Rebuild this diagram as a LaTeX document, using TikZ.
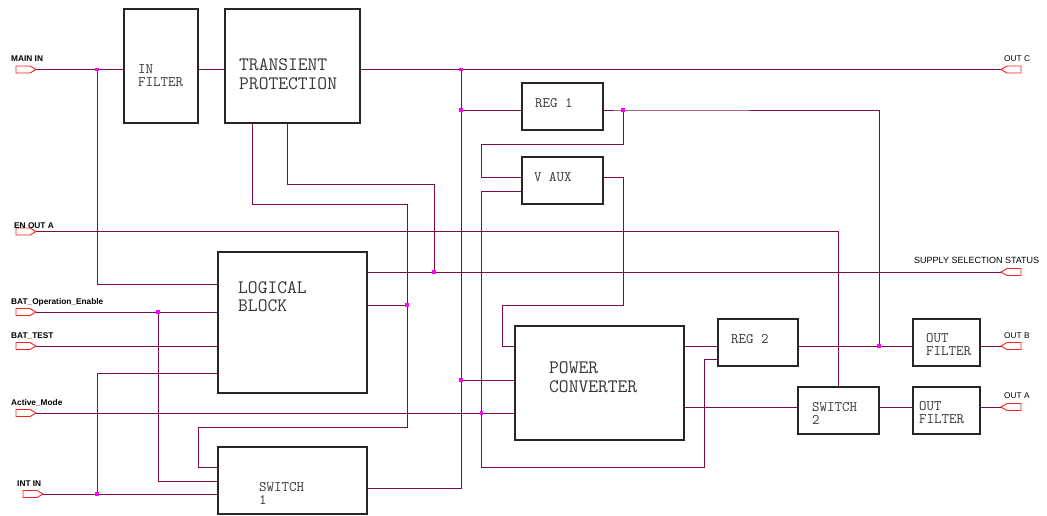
\documentclass[tikz,border=0pt]{standalone}
\usepackage{fontspec}
\setmainfont{Liberation Sans}
\definecolor{wirec}{RGB}{128,10,70}
\definecolor{dotc}{RGB}{255,0,255}
\definecolor{portc}{RGB}{255,30,30}
\definecolor{txtc}{RGB}{55,55,55}
\begin{document}
\begin{tikzpicture}[x=1pt,y=-1pt,
  wire/.style={draw=wirec, line width=0.9pt},
  blk/.style={draw=black!85, line width=1.1pt, fill=white, inner sep=0pt},
  bigt/.style={font=\ttfamily\fontsize{19}{18.5}\selectfont, text=txtc, align=left, anchor=west, inner sep=0pt},
  smt/.style={font=\ttfamily\fontsize{14.5}{13}\selectfont, text=txtc, align=left, anchor=west, inner sep=0pt},
  plab/.style={font=\bfseries\fontsize{8.3}{10}\selectfont, anchor=base west, inner sep=0pt},
  rlab/.style={font=\fontsize{8.3}{10}\selectfont, anchor=base west, inner sep=0pt},
  inport/.pic={\draw[draw=portc, fill=white, line width=0.9pt] (0,0) -- (-6,-3.5) -- (-20,-3.5) -- (-20,3.5) -- (-6,3.5) -- cycle;},
  outport/.pic={\draw[draw=portc, fill=white, line width=0.9pt] (0,0) -- (6,-3.5) -- (20,-3.5) -- (20,3.5) -- (6,3.5) -- cycle;},
  jdot/.style={fill=dotc, inner sep=0pt, minimum size=3.5pt}
]
\useasboundingbox (0,0) rectangle (1047,515);

% blocks
\node[blk, minimum width=74pt, minimum height=114pt] (infilter) at (161,66) {};
\node[blk, minimum width=135pt, minimum height=114pt] (transient) at (292.5,66) {};
\node[blk, minimum width=81pt, minimum height=47pt] (reg1) at (562.5,106.5) {};
\node[blk, minimum width=81pt, minimum height=47pt] (vaux) at (562.5,180.5) {};
\node[blk, minimum width=149pt, minimum height=141pt] (logic) at (292.5,322.5) {};
\node[blk, minimum width=149pt, minimum height=67pt] (switch1) at (292.5,480.5) {};
\node[blk, minimum width=169pt, minimum height=114pt] (power) at (599.5,383) {};
\node[blk, minimum width=80pt, minimum height=47pt] (reg2) at (758,342.5) {};
\node[blk, minimum width=81pt, minimum height=47pt] (switch2) at (838.5,410.5) {};
\node[blk, minimum width=67pt, minimum height=47pt] (ofb) at (946.5,342.5) {};
\node[blk, minimum width=67pt, minimum height=47pt] (ofa) at (946.5,410.5) {};

% block texts
\node[smt] (tinfilter) at (138,76) {IN\\FILTER};
\node[bigt] (ttransient) at (239,74) {TRANSIENT\\PROTECTION};
\node[smt] (treg1) at (535,103) {REG 1};
\node[smt] (tvaux) at (534,177) {V AUX};
\node[bigt] (tlogic) at (238,296.5) {LOGICAL\\BLOCK};
\node[bigt] (tpower) at (549,377) {POWER\\CONVERTER};
\node[smt] (tswitch1) at (259,493) {SWITCH\\1};
\node[smt] (treg2) at (731,339) {REG 2};
\node[smt] (tswitch2) at (812,413) {SWITCH\\2};
\node[smt] (tofb) at (926,345) {OUT\\FILTER};
\node[smt] (tofa) at (919,413) {OUT\\FILTER};

% ports
\coordinate (mainin) at (36,69.5);
\coordinate (enouta) at (36,231.5);
\coordinate (batop) at (36,312);
\coordinate (battest) at (36,346);
\coordinate (activemode) at (36,413);
\coordinate (intin) at (43,494);
\coordinate (outc) at (1001,69.5);
\coordinate (supply) at (1001,272);
\coordinate (outb) at (1001,346);
\coordinate (outa) at (1001,407);

% junctions
\coordinate (j1) at (97,69.5);
\coordinate (j2) at (461,69.5);
\coordinate (j3) at (461,110);
\coordinate (j4) at (623,110);
\coordinate (j5) at (461,380);
\coordinate (j6) at (481.5,413);
\coordinate (j7) at (434,272);
\coordinate (j8) at (407,305);
\coordinate (j9) at (158,312);
\coordinate (j10) at (97,494);
\coordinate (j11) at (879,346);

% wires
\draw[wire] (mainin) -- (infilter.west |- mainin);
\draw[wire] (infilter.east |- mainin) -- (transient.west |- mainin);
\draw[wire] (transient.east |- mainin) -- (outc);
\draw[wire] (j1) |- (logic.west |- 0,284);
\draw[wire] (j2) |- (switch1.east |- 0,488);
\draw[wire] (j3) -- (reg1.west |- j3);
\draw[wire] (j5) -- (power.west |- j5);
\draw[wire] (reg1.east |- j4) -- (j4) -| (j11);
\draw[wire] (j4) |- (481.5,144) |- (vaux.west |- 0,177);
\draw[wire] (vaux.west |- 0,191) -| (481.5,467) -| (704,359) -- (reg2.west |- 0,359);
\draw[wire] (vaux.east |- 0,177) -| (623,305) -| (502,346) -- (power.west |- 0,346);
\draw[wire] (power.east |- 0,346) -- (reg2.west |- 0,346);
\draw[wire] (reg2.east |- j11) -- (ofb.west |- j11);
\draw[wire] (power.east |- 0,407) -- (switch2.west |- 0,407);
\draw[wire] (switch2.east |- 0,407) -- (ofa.west |- 0,407);
\draw[wire] (ofb.east |- outb) -- (outb);
\draw[wire] (ofa.east |- outa) -- (outa);
\draw[wire] (enouta) -| (switch2.north);
\draw[wire] (logic.east |- supply) -- (supply);
\draw[wire] (transient.south -| 287,0) |- (434,184) -- (j7);
\draw[wire] (transient.south -| 252,0) |- (407,204) -- (407,427) -| (198,467) -- (switch1.west |- 0,467);
\draw[wire] (logic.east |- j8) -- (j8);
\draw[wire] (batop) -- (logic.west |- batop);
\draw[wire] (j9) |- (switch1.west |- 0,481);
\draw[wire] (battest) -- (logic.west |- battest);
\draw[wire] (intin) -- (switch1.west |- intin);
\draw[wire] (j10) |- (logic.west |- 0,373);
\draw[wire] (activemode) -- (power.west |- activemode);

% port shapes
\pic at (mainin) {inport};
\pic at (enouta) {inport};
\pic at (batop) {inport};
\pic at (battest) {inport};
\pic at (activemode) {inport};
\pic at (intin) {inport};
\pic at (outc) {outport};
\pic at (supply) {outport};
\pic at (outb) {outport};
\pic at (outa) {outport};

% port labels
\node[plab] (lmainin) at (11,61) {MAIN IN};
\node[plab] (lenouta) at (14,228) {EN OUT A};
\node[plab] (lbatop) at (11,304) {BAT\_Operation\_Enable};
\node[plab] (lbattest) at (11,338) {BAT\_TEST};
\node[plab] (lactive) at (11,405) {Active\_Mode};
\node[plab] (lintin) at (17,486) {INT IN};
\node[rlab] (loutc) at (1004,61) {OUT C};
\node[rlab, font=\fontsize{9}{10}\selectfont] (lsupply) at (914,263) {SUPPLY SELECTION STATUS};
\node[rlab] (loutb) at (1004,338) {OUT B};
\node[rlab] (louta) at (1004,398) {OUT A};

% junction dots
\foreach \j in {j1,j2,j3,j4,j5,j6,j7,j8,j9,j10,j11}
  \node[jdot] at (\j) {};
\end{tikzpicture}
\end{document}
